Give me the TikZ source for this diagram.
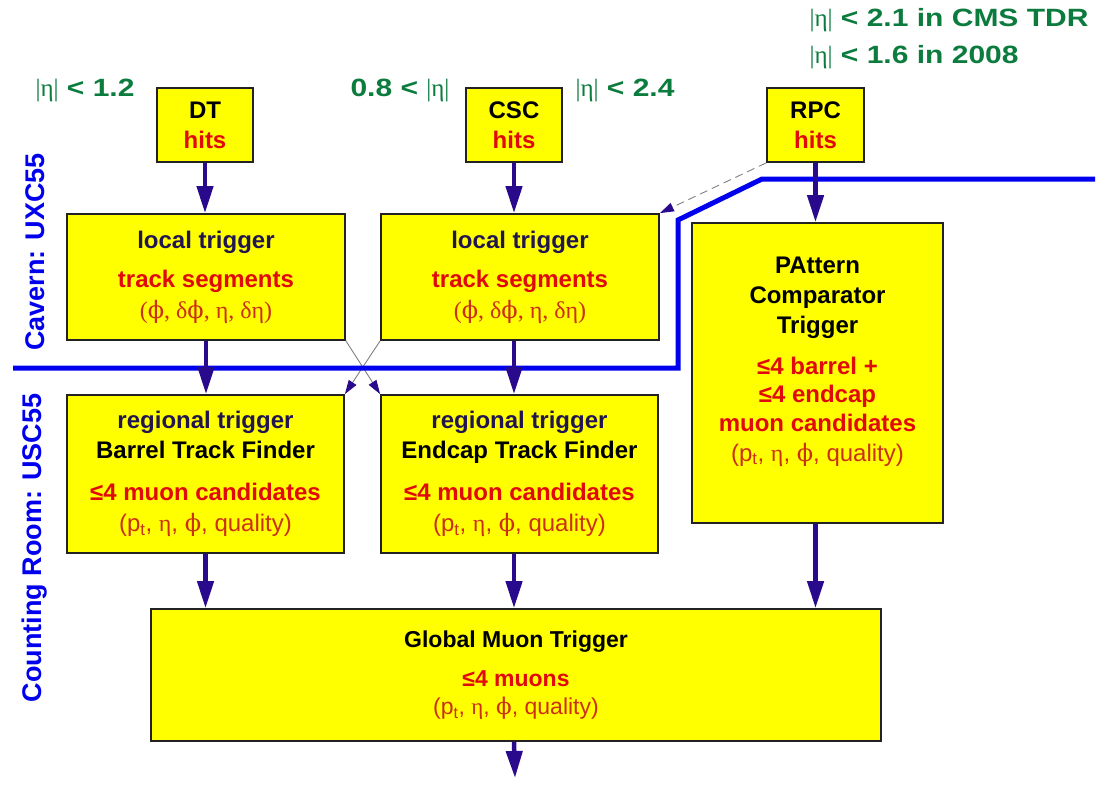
\documentclass[tikz,border=0pt]{standalone}
\usepackage{fontspec}
\setmainfont{Liberation Sans}
\newfontfamily\tms{Liberation Serif}
\newfontfamily\dvs{DejaVu Serif}
\newfontfamily\wide[FakeStretch=1.2]{Liberation Sans}
\usetikzlibrary{arrows.meta,positioning}
\definecolor{Ylw}{HTML}{FFFF00}
\definecolor{Edge}{HTML}{222222}
\definecolor{Ink}{HTML}{2A0A8C}
\definecolor{Ttl}{HTML}{221650}
\definecolor{Hot}{HTML}{E00A0A}
\definecolor{Warm}{HTML}{CC3014}
\definecolor{Grn}{HTML}{0B7B3E}
\definecolor{Wall}{HTML}{0000EE}
\newcommand{\fph}{{\dvs ϕ}}
\newcommand{\kin}{{\mdseries\color{Warm}(p\textsubscript{t}, {\tms η}, \fph, quality)}}
\newcommand{\seg}{{\mdseries\color{Warm}\tms (\fph, δ\fph, η, δη)}}

\begin{document}
\begin{tikzpicture}[x=1pt,y=-1pt,
    box/.style={draw=Edge,line width=1.8pt,fill=Ylw,align=center,inner sep=0pt,
      font=\fontsize{24}{28}\selectfont\bfseries},
    arr/.style={-{Triangle[length=27pt,width=16pt]},line width=4.5pt,Ink},
    xarr/.style={-{Triangle[length=14pt,width=9pt,color=Ink]},line width=0.9pt,gray},
    side/.style={rotate=90,font=\fontsize{27}{32}\selectfont\bfseries,text=Wall},
    cut/.style={line width=5pt,Wall},
    eta/.style={font=\fontsize{25}{37}\selectfont\wide\bfseries,text=Grn}
  ]
    \useasboundingbox (0,0) rectangle (1105,792);
    % hit sources
    \node[box,minimum width=96pt,minimum height=74pt] (dt) at (205,125) {DT\\[2pt]{\color{Hot}hits}};
    \node[box,minimum width=96pt,minimum height=74pt] (csc) at (514,125) {CSC\\[2pt]{\color{Hot}hits}};
    \node[box,minimum width=97pt,minimum height=74pt] (rpc) at (815.5,125) {RPC\\[2pt]{\color{Hot}hits}};
    % local and regional triggers
    \node[box,minimum width=278pt,minimum height=126pt] (loc1) at (206,277)
      {{\color{Ttl}local trigger}\\[11pt]{\color{Hot}track segments}\\[3pt]\seg};
    \node[box,minimum width=278pt,minimum height=126pt] (loc2) at (520,277)
      {{\color{Ttl}local trigger}\\[11pt]{\color{Hot}track segments}\\[3pt]\seg};
    \node[box,minimum width=277pt,minimum height=158pt] (reg1) at (205.5,474)
      {{\color{Ttl}regional trigger}\\[2pt]Barrel Track Finder\\[14pt]{\color{Hot}≤4 muon candidates}\\[3pt]\kin};
    \node[box,minimum width=277pt,minimum height=158pt] (reg2) at (519.5,474)
      {{\color{Ttl}regional trigger}\\[2pt]Endcap Track Finder\\[14pt]{\color{Hot}≤4 muon candidates}\\[3pt]\kin};
    \node[box,minimum width=251pt,minimum height=300pt] (pact) at (817.5,373)
      {PAttern\\[2pt]Comparator\\[2pt]Trigger\\[13pt]{\color{Hot}≤4 barrel +}\\{\color{Hot}≤4 endcap}\\[1pt]{\color{Hot}muon candidates}\\[2pt]\kin\\\mbox{}};
    \node[box,minimum width=730pt,minimum height=132pt,font=\fontsize{23}{28}\selectfont\bfseries] (gmt) at (516,675)
      {Global Muon Trigger\\[11pt]{\color{Hot}≤4 muons}\\\kin};
    \coordinate (out) at (515,778);
    % eta ranges
    \node[eta] (etadt) at (85,90) {{\tms\mdseries|η|} < 1.2};
    \node[eta] (etacsca) at (400,90) {0.8 < {\tms\mdseries|η|}};
    \node[eta] (etacscb) at (625,90) {{\tms\mdseries|η|} < 2.4};
    \node[eta,anchor=west,align=left] (etarpc) at (806,38.5)
      {{\tms\mdseries|η|} < 2.1 in CMS TDR\\{\tms\mdseries|η|} < 1.6 in 2008};
    % cavern / counting room
    \node[side] (cav) at (35,252) {Cavern: UXC55};
    \node[side] (cnt) at (35,548) {Counting Room: USC55};
    \draw[xarr] (loc1.south east) -- (reg2.north west);
    \draw[xarr] (loc2.south west) -- (reg1.north east);
    \draw[xarr,dash pattern=on 8pt off 5pt] (rpc.south west) -- (loc2.north east);
    \draw[cut] (13,368) -- (678,368) -- (678,220) -- (762,179) -- (1095,179);
    % data flow
    \foreach \a/\b in {dt/loc1,loc1/reg1,reg1/gmt}
      \draw[arr] (\a.south) -- (\a.south |- \b.north);
    \foreach \a/\b in {csc/loc2,loc2/reg2,reg2/gmt}
      \draw[arr] (csc |- \a.south) -- (csc |- \b.north);
    \foreach \a/\b in {rpc/pact,pact/gmt}
      \draw[arr] (rpc |- \a.south) -- (rpc |- \b.north);
    \draw[arr] (csc |- gmt.south) -- (out);
\end{tikzpicture}
\end{document}
